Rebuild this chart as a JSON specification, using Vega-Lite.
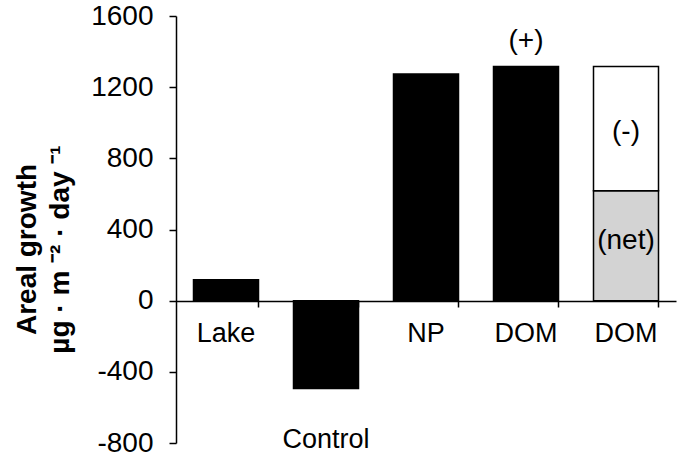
{
  "$schema": "https://vega.github.io/schema/vega-lite/v6.json",
  "autosize": "none",
  "width": 500,
  "height": 427,
  "padding": {"left": 176, "top": 16, "right": 5, "bottom": 16},
  "background": "white",
  "view": {"stroke": null},
  "config": {"font": "Liberation Sans"},
  "datasets": {
    "bars": [
      {"cat": "Lake", "seg": "total", "y0": 0, "y1": 118},
      {"cat": "Control", "seg": "total", "y0": 0, "y1": -494},
      {"cat": "NP", "seg": "total", "y0": 0, "y1": 1274},
      {"cat": "DOM1", "seg": "total", "y0": 0, "y1": 1316},
      {"cat": "DOM2", "seg": "net", "y0": 0, "y1": 618},
      {"cat": "DOM2", "seg": "minus", "y0": 618, "y1": 1316}
    ],
    "catlabels": [
      {"cat": "Lake", "label": "Lake", "v": -232},
      {"cat": "Control", "label": "Control", "v": -826},
      {"cat": "NP", "label": "NP", "v": -232},
      {"cat": "DOM1", "label": "DOM", "v": -232},
      {"cat": "DOM2", "label": "DOM", "v": -232}
    ],
    "notes": [
      {"cat": "DOM1", "label": "(+)", "v": 1461},
      {"cat": "DOM2", "label": "(-)", "v": 949},
      {"cat": "DOM2", "label": "(net)", "v": 338}
    ]
  },
  "layer": [
    {
      "data": {"name": "bars"},
      "mark": {"type": "bar", "stroke": "black", "strokeWidth": 1.5},
      "encoding": {
        "x": {
          "field": "cat", "type": "nominal", "sort": null,
          "scale": {"domain": ["Lake", "Control", "NP", "DOM1", "DOM2"], "paddingInner": 0.35, "paddingOuter": 0.175},
          "axis": {"title": null, "labels": false, "bandPosition": 1, "offset": -142, "domainColor": "black", "domainWidth": 1.5, "tickColor": "black", "tickWidth": 1.5, "tickSize": 6}
        },
        "y": {
          "field": "y0", "type": "quantitative",
          "scale": {"domain": [-800, 1600], "nice": false, "zero": false},
          "axis": {
            "values": [-800, -400, 0, 400, 800, 1200, 1600],
            "labelExpr": "datum.value + ''",
            "grid": false,
            "labelFontSize": 28, "labelColor": "black", "labelPadding": 16,
            "domainColor": "black", "domainWidth": 1.5,
            "tickColor": "black", "tickWidth": 1.5, "tickSize": 7,
            "title": ["Areal growth", "µg · m ⁻² · day ⁻¹"],
            "titleFontSize": 28, "titleFontWeight": "bold", "titleColor": "black",
            "titleLineHeight": 33, "titleBaseline": "alphabetic",
            "titleAngle": -90, "titleX": -141, "titleY": 233, "titleAlign": "center"
          }
        },
        "y2": {"field": "y1"},
        "color": {
          "field": "seg", "type": "nominal", "legend": null,
          "scale": {"domain": ["total", "net", "minus"], "range": ["black", "#d3d3d3", "white"]}
        }
      }
    },
    {
      "data": {"name": "catlabels"},
      "mark": {"type": "text", "fontSize": 27, "baseline": "alphabetic", "align": "center", "color": "black"},
      "encoding": {
        "x": {"field": "cat", "type": "nominal", "sort": null},
        "y": {"field": "v", "type": "quantitative"},
        "text": {"field": "label"}
      }
    },
    {
      "data": {"name": "notes"},
      "mark": {"type": "text", "fontSize": 28, "baseline": "middle", "align": "center", "color": "black"},
      "encoding": {
        "x": {"field": "cat", "type": "nominal", "sort": null},
        "y": {"field": "v", "type": "quantitative"},
        "text": {"field": "label"}
      }
    }
  ]
}
